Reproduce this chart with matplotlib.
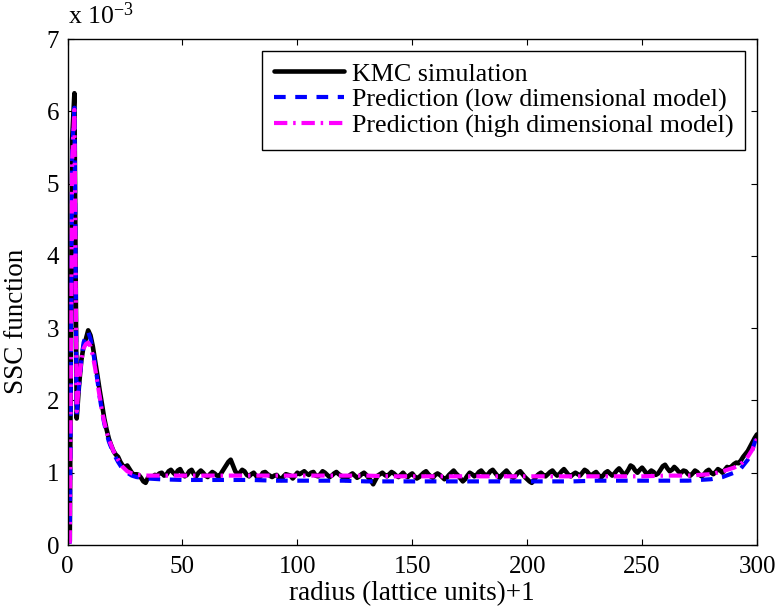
import numpy as np
import matplotlib
matplotlib.use("Agg")
import matplotlib.pyplot as plt

plt.rcParams["font.family"] = ["Liberation Serif", "DejaVu Serif"]
plt.rcParams["mathtext.fontset"] = "custom"
plt.rcParams["mathtext.rm"] = "Liberation Serif"
plt.rcParams["mathtext.it"] = "Liberation Serif:italic"

# radius (lattice units) + 1
radius = np.arange(1, 301)

# KMC simulation, SSC function in units of 1e-3
kmc = [
    0.05, 5.60, 6.25, 1.75, 2.20, 2.55, 2.75, 2.85, 2.97, 2.90,
    2.75, 2.55, 2.35, 2.14, 1.95, 1.75, 1.60, 1.47, 1.38, 1.30,
    1.25, 1.22, 1.15, 1.10, 1.08, 1.10, 1.05, 1.00, 0.97, 0.98,
    0.97, 0.93, 0.88, 0.86, 0.93, 0.95, 0.94, 0.97, 0.96, 0.99,
    1.00, 0.96, 0.97, 1.02, 1.04, 1.00, 0.97, 1.03, 1.05, 0.99,
    0.95, 0.97, 1.02, 1.04, 0.98, 0.95, 1.00, 1.03, 1.00, 0.96,
    0.94, 0.98, 1.01, 0.99, 0.96, 0.95, 1.00, 1.05, 1.10, 1.15,
    1.18, 1.10, 1.02, 0.98, 1.00, 1.04, 1.02, 0.97, 0.95, 0.98,
    1.00, 0.96, 0.92, 0.95, 1.00, 1.01, 0.98, 0.96, 0.94, 0.96,
    0.97, 0.93, 0.90, 0.95, 0.98, 0.97, 0.96, 0.92, 0.96, 1.00,
    0.98, 1.00, 1.02, 0.99, 0.97, 1.00, 1.01, 0.96, 0.95, 0.98,
    1.02, 1.00, 0.97, 0.94, 0.96, 0.99, 1.01, 0.98, 0.96, 0.93,
    0.90, 0.94, 0.97, 0.99, 0.96, 0.93, 0.95, 0.98, 1.00, 0.97,
    0.93, 0.89, 0.84, 0.90, 0.96, 0.98, 1.00, 0.97, 0.95, 0.98,
    1.01, 0.99, 0.96, 0.94, 0.97, 1.00, 0.96, 0.94, 0.97, 0.99,
    0.95, 0.92, 0.94, 0.97, 1.00, 1.02, 0.98, 0.95, 0.93, 0.97,
    0.99, 0.97, 0.94, 0.91, 0.93, 0.97, 1.00, 1.03, 0.99, 0.96,
    0.92, 0.88, 0.91, 0.96, 1.00, 0.98, 0.95, 0.97, 1.01, 1.03,
    0.99, 0.96, 0.98, 1.02, 1.04, 1.00, 0.96, 0.93, 0.97, 1.00,
    1.03, 0.99, 0.95, 0.93, 0.96, 1.00, 1.02, 0.98, 0.94, 0.91,
    0.88, 0.86, 0.90, 0.95, 0.98, 1.00, 0.97, 0.95, 0.98, 1.01,
    1.03, 0.99, 0.96, 0.98, 1.02, 1.05, 1.01, 0.97, 0.95, 0.98,
    1.00, 0.98, 0.96, 1.00, 1.04, 1.02, 0.98, 0.96, 0.99, 1.01,
    0.97, 0.93, 0.96, 1.00, 1.02, 0.99, 0.96, 0.99, 1.03, 1.06,
    1.02, 0.97, 0.99, 1.04, 1.10, 1.08, 1.03, 1.00, 1.04, 1.07,
    1.03, 0.98, 1.00, 1.03, 1.01, 0.97, 0.99, 1.04, 1.09, 1.11,
    1.06, 1.02, 1.04, 1.08, 1.05, 1.01, 1.00, 1.03, 1.02, 0.98,
    0.96, 0.99, 1.03, 1.01, 0.97, 0.95, 0.98, 1.02, 1.04, 1.00,
    0.98, 1.01, 1.05, 1.03, 1.00, 1.04, 1.08, 1.06, 1.09, 1.12,
    1.14, 1.13, 1.17, 1.22, 1.26, 1.30, 1.36, 1.42, 1.48, 1.53,
]

# model predictions (units of 1e-3)
pred_radius = [
    1, 2, 3, 4, 5, 6, 7, 8, 9, 10, 11, 12, 13, 14, 15, 16, 17, 18, 19, 20,
    22, 24, 26, 28, 30, 35, 40, 50, 60, 70, 80, 90, 100, 110, 120, 130,
    140, 150, 160, 170, 180, 190, 200, 210, 220, 230, 240, 250, 260, 270,
    275, 280, 285, 290, 293, 296, 298, 300,
]
pred_low = [
    0.02, 5.40, 6.05, 1.80, 2.20, 2.55, 2.80, 2.90, 2.95, 2.85,
    2.70, 2.50, 2.28, 2.05, 1.85, 1.68, 1.55, 1.43, 1.35, 1.27,
    1.15, 1.05, 1.00, 0.96, 0.94, 0.92, 0.91, 0.90, 0.90, 0.90,
    0.90, 0.89, 0.89, 0.89, 0.89, 0.88, 0.88, 0.88, 0.88, 0.88,
    0.88, 0.88, 0.88, 0.88, 0.88, 0.89, 0.89, 0.89, 0.89, 0.89,
    0.90, 0.91, 0.94, 1.00, 1.06, 1.18, 1.32, 1.52,
]
pred_high = [
    0.02, 5.30, 6.02, 1.85, 2.25, 2.55, 2.72, 2.78, 2.80, 2.75,
    2.62, 2.45, 2.25, 2.05, 1.85, 1.70, 1.57, 1.46, 1.38, 1.30,
    1.18, 1.08, 1.02, 0.99, 0.97, 0.96, 0.96, 0.96, 0.96, 0.96,
    0.96, 0.96, 0.96, 0.96, 0.96, 0.96, 0.95, 0.95, 0.95, 0.95,
    0.95, 0.95, 0.95, 0.95, 0.95, 0.95, 0.95, 0.95, 0.96, 0.96,
    0.97, 0.98, 1.02, 1.07, 1.12, 1.22, 1.32, 1.47,
]

labels = [
    "KMC simulation",
    "Prediction (low dimensional model)",
    "Prediction (high dimensional model)",
]
scale = 1e-3

W, H = 781, 615
fig = plt.figure(figsize=(W / 100, H / 100), dpi=100)
ax = fig.add_axes([67.5 / W, 70 / H, (757 - 67.5) / W, (545 - 39) / H])

ax.plot(radius, np.array(kmc) * scale, color="black", lw=3.3,
        solid_capstyle="round", solid_joinstyle="round", label=labels[0])
ax.plot(pred_radius, np.array(pred_low) * scale, color="#0000ff", lw=3.0,
        linestyle=(0, (2.8, 2.3)), label=labels[1])
ax.plot(pred_radius, np.array(pred_high) * scale, color="#ff00ff", lw=3.0,
        linestyle=(0, (3.2, 1.4, 0.6, 1.4)), label=labels[2])

ax.set_xlim(0, 300)
ax.set_ylim(0, 7e-3)
ax.set_xticks(np.arange(0, 301, 50))
ax.set_yticks(np.arange(0, 8) * scale)
ax.set_yticklabels([str(v) for v in range(8)])
ax.tick_params(direction="in", length=4.5, width=0.8, top=True, right=True,
               labelsize=18)
ax.tick_params(axis="x", pad=8)
ax.tick_params(axis="y", pad=6)
for s in ax.spines.values():
    s.set_linewidth(1.0)

ax.set_xlabel("radius (lattice units)+1", fontsize=19.5, labelpad=2)
ax.set_ylabel("SSC function", fontsize=19.5)
ax.yaxis.set_label_coords(-38 / (757 - 67.5), (545 - 321) / (545 - 39))
fig.text(68 / W, 1 - 16 / H, r"x 10$^{-3}$", fontsize=18.5,
         ha="left", va="center")

leg = ax.legend(loc="upper right", fontsize=18.7, frameon=True, fancybox=False,
                framealpha=1, edgecolor="black", handlelength=2.7,
                handletextpad=0.3, labelspacing=0.1, borderpad=0.45,
                borderaxespad=0.45)
leg.get_frame().set_linewidth(1.0)

fig.savefig("out.png", dpi=100)
